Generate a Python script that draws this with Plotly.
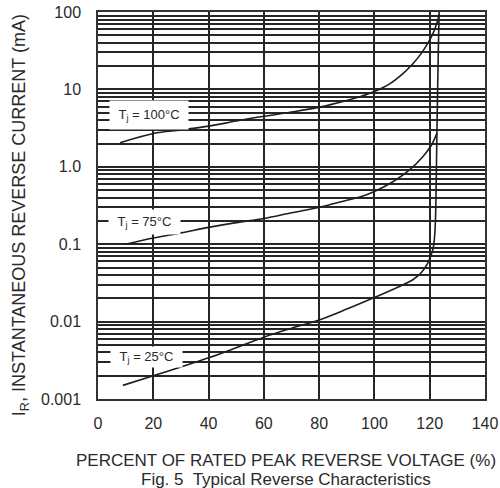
import math
import plotly.graph_objects as go

# ---- data ----
pct_100 = [8, 20, 30, 40, 50, 60, 70, 80, 90, 95, 100, 105.5, 110.3, 113.9, 116.9, 119.6, 121.4, 122.9, 123.5]
ir_100 = [2.05, 2.7, 3.0, 3.35, 3.9, 4.5, 5.1, 5.9, 7.2, 8.1, 9.4, 11.8, 16, 21.5, 29, 41, 55, 78, 94]

pct_75 = [10, 20, 30, 40, 50, 60, 70, 80, 90, 95, 100, 106.7, 112.7, 117.5, 120.6, 122.6]
ir_75 = [0.10, 0.12, 0.14, 0.165, 0.19, 0.215, 0.255, 0.30, 0.37, 0.41, 0.48, 0.64, 0.91, 1.35, 1.9, 2.7]

pct_25 = [9, 20, 30, 40, 50, 60, 70, 80, 90, 100, 105, 110, 114, 117, 119.3, 121.1, 121.8, 122.2,
          122.6, 123.1, 123.4]
ir_25 = [0.0015, 0.002, 0.0026, 0.0034, 0.0046, 0.0063, 0.0082, 0.0105, 0.0145, 0.0205, 0.0245, 0.0295,
         0.035, 0.043, 0.057, 0.084, 0.13, 0.3, 2.7, 30, 100]

x_ticks = [0, 20, 40, 60, 80, 100, 120, 140]
y_decades = [0.001, 0.01, 0.1, 1, 10, 100]
y_decade_labels = ["0.001", "0.01", "0.1", "1.0", "10", "100"]
y_minor_mult = [2, 3, 4, 5, 6, 7, 8, 9]

labels = ["T<sub>j</sub> = 100°C", "T<sub>j</sub> = 75°C", "T<sub>j</sub> = 25°C"]
label_x = [18.3, 17.0, 17.7]
label_y = [4.67, 0.194, 0.00349]
label_w = [78, 71, 71]
label_h = [28, 24, 20]

FONT = "Liberation Sans, Arial, sans-serif"
TXT = "#2a2a2a"
GRID = "#262626"

fig = go.Figure()
for xs, ys in [(pct_100, ir_100), (pct_75, ir_75), (pct_25, ir_25)]:
    fig.add_trace(go.Scatter(x=xs, y=ys, mode="lines",
                             line=dict(color="#1e1e1e", width=1.6, shape="spline", smoothing=1.0),
                             showlegend=False, hoverinfo="skip"))

# minor log grid values (2..9 per decade)
y_minor_vals = [d * m for d in y_decades[:-1] for m in y_minor_mult]

for t, lx, ly, w, h in zip(labels, label_x, label_y, label_w, label_h):
    fig.add_annotation(x=lx, y=math.log10(ly), xref="x", yref="y", text=t,
                       showarrow=False, bgcolor="white", borderpad=0,
                       width=w, height=h, align="center", valign="middle",
                       font=dict(family=FONT, size=13, color=TXT))

fig.add_annotation(x=-0.2016, y=0.475, xref="paper", yref="paper",
                   text="I<sub>R</sub>, INSTANTANEOUS REVERSE CURRENT (mA)",
                   textangle=-90, showarrow=False, xanchor="center", yanchor="middle",
                   font=dict(family=FONT, size=18, color=TXT))
fig.add_annotation(x=0.487, y=-0.159, xref="paper", yref="paper",
                   text="PERCENT OF RATED PEAK REVERSE VOLTAGE (%)",
                   showarrow=False, xanchor="center", yanchor="middle",
                   font=dict(family=FONT, size=17, color=TXT))
fig.add_annotation(x=0.487, y=-0.209, xref="paper", yref="paper",
                   text="Fig. 5  Typical Reverse Characteristics",
                   showarrow=False, xanchor="center", yanchor="middle",
                   font=dict(family=FONT, size=17, color=TXT))

fig.update_layout(
    width=500, height=488,
    margin=dict(l=98, r=15, t=12, b=89, autoexpand=False),
    paper_bgcolor="white", plot_bgcolor="white",
    xaxis=dict(range=[0, 140], tickmode="array", tickvals=x_ticks, automargin=False,
               ticklabeloverflow="allow",
               showgrid=True, gridcolor=GRID, gridwidth=1.5, zeroline=False,
               showline=True, mirror=True, linecolor="#333", linewidth=1.5,
               ticks="outside", ticklen=9, tickcolor="rgba(0,0,0,0)",
               tickfont=dict(family=FONT, size=16, color=TXT)),
    yaxis=dict(type="log", range=[-3, 2], tickmode="array", automargin=False,
               ticklabeloverflow="allow",
               tickvals=y_decades, ticktext=y_decade_labels,
               showgrid=True, gridcolor=GRID, gridwidth=1.5, zeroline=False,
               showline=True, mirror=True, linecolor="#333", linewidth=1.5,
               ticks="outside", ticklen=12, tickcolor="rgba(0,0,0,0)",
               tickfont=dict(family=FONT, size=16, color=TXT),
               minor=dict(tickmode="array", tickvals=y_minor_vals, ticks="",
                          showgrid=True, gridcolor=GRID, gridwidth=1.5)),
)

fig.write_html("out.html", config={"displayModeBar": False},
               post_script="document.body.style.margin='0';")
